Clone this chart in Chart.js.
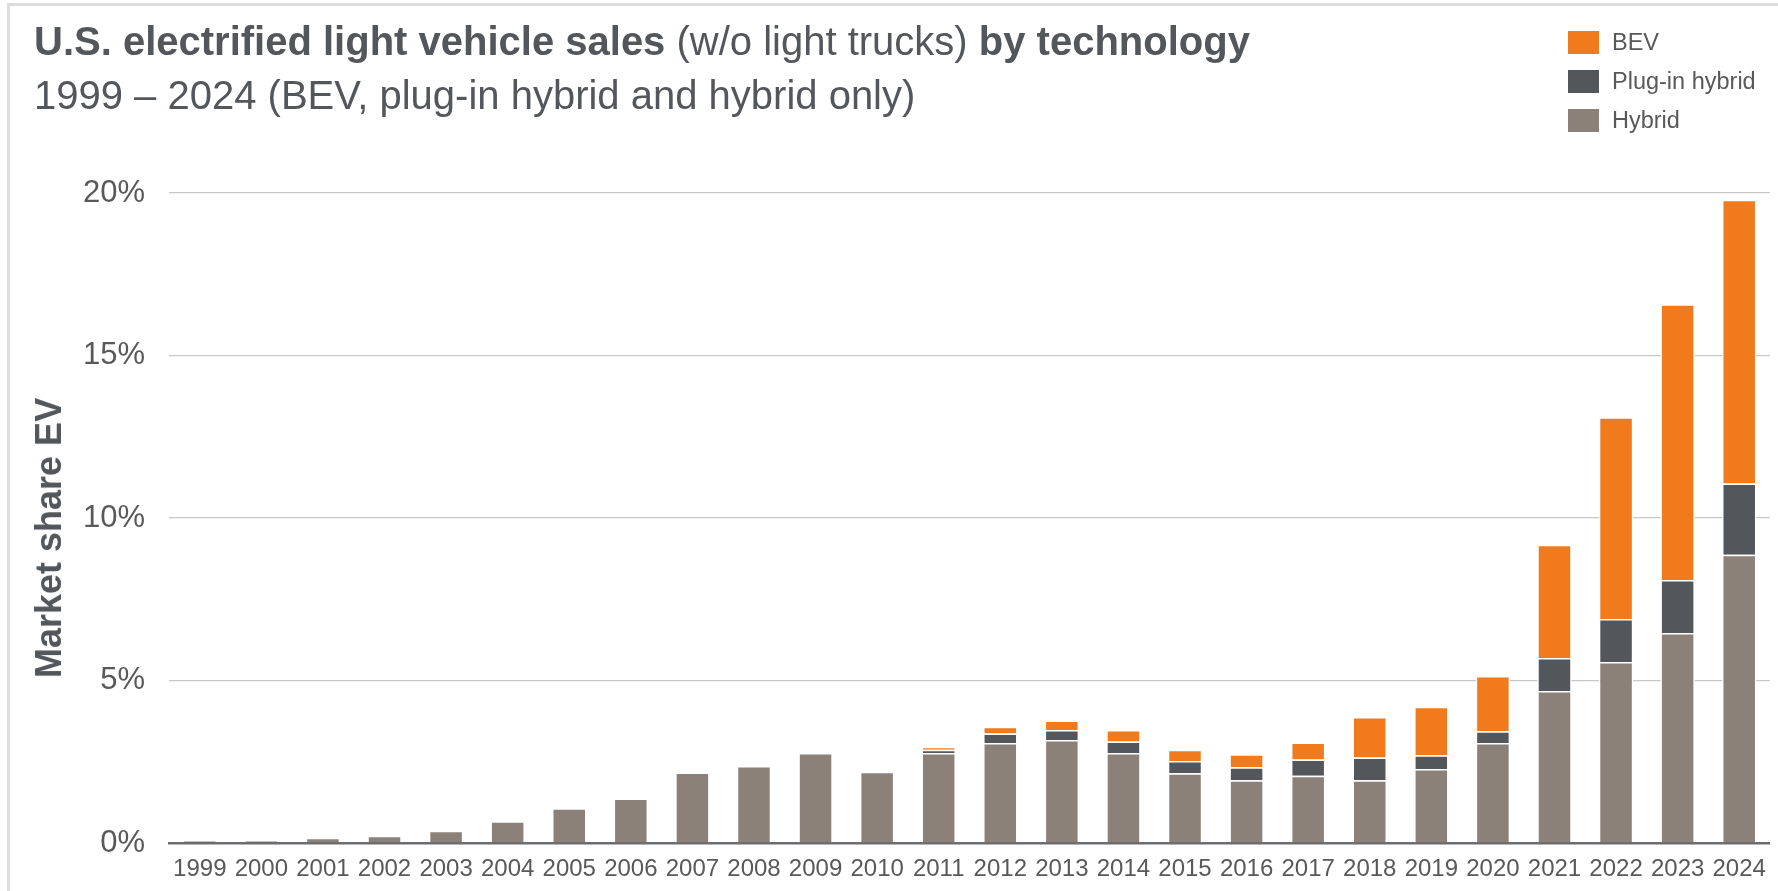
<!DOCTYPE html>
<html>
<head>
<meta charset="utf-8">
<script src="https://cdn.jsdelivr.net/npm/chart.js@4.4.1/dist/chart.umd.min.js"></script>
<style>
  body { margin: 0; background: #fff; font-family: "Liberation Sans", Arial, sans-serif; color: #53565a; }
  #wrap { position: relative; width: 1778px; height: 891px; overflow: hidden; }
  #frame { position: absolute; left: 7px; top: 3px; right: 0; bottom: 0; border-top: 3px solid #dcdcdc; border-left: 3px solid #dcdcdc; }
  #title { position: absolute; left: 34px; top: 18px; font-size: 40px; white-space: nowrap; line-height: 46px; }
  #title b { font-weight: bold; }
  #subtitle { position: absolute; left: 34px; top: 72px; font-size: 40px; white-space: nowrap; line-height: 46px; }
  #ytitle { position: absolute; left: 49px; top: 538px; transform: translate(-50%, -50%) rotate(-90deg); font-size: 36px; font-weight: bold; white-space: nowrap; }
  #legend { position: absolute; left: 1568px; top: 23px; }
  .row { display: flex; align-items: center; height: 39px; }
  .sw { width: 31px; height: 23px; margin-right: 13px; }
  .lbl { font-size: 23.5px; color: #595959; }
  #chartBox { position: absolute; left: 0; top: 0; width: 1778px; height: 891px; }
</style>
</head>
<body>
<div id="wrap">
  <div id="frame"></div>
  <div id="chartBox"><canvas id="myChart"></canvas></div>
  <div id="title"><b>U.S. electrified light vehicle sales</b> (w/o light trucks) <b>by technology</b></div>
  <div id="subtitle">1999 – 2024 (BEV, plug-in hybrid and hybrid only)</div>
  <div id="ytitle">Market share EV</div>
  <div id="legend"></div>
</div>
<script>
const years = ['1999', '2000', '2001', '2002', '2003', '2004', '2005', '2006', '2007', '2008', '2009', '2010', '2011',
    '2012', '2013', '2014', '2015', '2016', '2017', '2018', '2019', '2020', '2021', '2022', '2023', '2024'];

// market share in %
const hybrid = [0.07, 0.07, 0.16, 0.22, 0.38, 0.67, 1.07, 1.37, 2.17, 2.37, 2.77, 2.19, 2.77,
    3.08, 3.17, 2.77, 2.15, 1.93, 2.07, 1.93, 2.28, 3.08, 4.68, 5.57, 6.46, 8.87];
const plugIn = [0, 0, 0, 0, 0, 0, 0, 0, 0, 0, 0, 0, 0.1,
    0.29, 0.31, 0.35, 0.37, 0.4, 0.5, 0.7, 0.42, 0.36, 1.01, 1.32, 1.63, 2.19];
const bev = [0, 0, 0, 0, 0, 0, 0, 0, 0, 0, 0, 0, 0.09,
    0.21, 0.29, 0.36, 0.35, 0.4, 0.52, 1.25, 1.49, 1.7, 3.49, 6.21, 8.49, 8.73];

const yTicks = [0, 5, 10, 15, 20];

const colors = { bev: '#f07a1c', plugIn: '#53565a', hybrid: '#8b8178' };
const textGray = '#595959';

const datasets = [
    { label: 'Hybrid', data: hybrid, backgroundColor: colors.hybrid },
    { label: 'Plug-in hybrid', data: plugIn, backgroundColor: colors.plugIn },
    { label: 'BEV', data: bev, backgroundColor: colors.bev }
].map(ds => Object.assign(ds, {
    borderColor: '#ffffff',
    borderWidth: 1.5,
    barPercentage: 0.56,
    categoryPercentage: 1
}));

// legend, top item first
const legend = document.getElementById('legend');
datasets.slice().reverse().forEach(ds => {
    const row = document.createElement('div');
    row.className = 'row';
    row.innerHTML = `<div class="sw" style="background:${ds.backgroundColor}"></div><span class="lbl">${ds.label}</span>`;
    legend.appendChild(row);
});

Chart.defaults.font.family = '"Liberation Sans", Arial, sans-serif';
Chart.defaults.color = textGray;

const ctx = document.getElementById('myChart').getContext('2d');
const myChart = new Chart(ctx, {
    type: 'bar',
    data: { labels: years, datasets: datasets },
    options: {
        responsive: true,
        maintainAspectRatio: false,
        animation: false,
        layout: { padding: { left: 0, right: 5, top: 193, bottom: 0 } },
        plugins: {
            legend: { display: false },
            title: { display: false },
            tooltip: { enabled: false }
        },
        scales: {
            x: {
                stacked: true,
                grid: { display: false, drawTicks: false },
                border: { display: true, color: '#6b6c6f', width: 2.5 },
                ticks: { font: { size: 24 }, color: textGray, padding: 12, maxRotation: 0, autoSkip: false },
                afterFit: (scale) => { scale.height = 48; }
            },
            y: {
                stacked: true,
                min: 0,
                max: 20,
                afterBuildTicks: (axis) => { axis.ticks = yTicks.map(v => ({ value: v })); },
                grid: { color: '#c8c8c8', lineWidth: 1.3, drawTicks: false },
                border: { display: false },
                ticks: {
                    font: { size: 31 },
                    color: textGray,
                    padding: 24,
                    callback: (v) => v + '%'
                },
                afterFit: (scale) => { scale.width = 169; }
            }
        }
    }
});
</script>
</body>
</html>
